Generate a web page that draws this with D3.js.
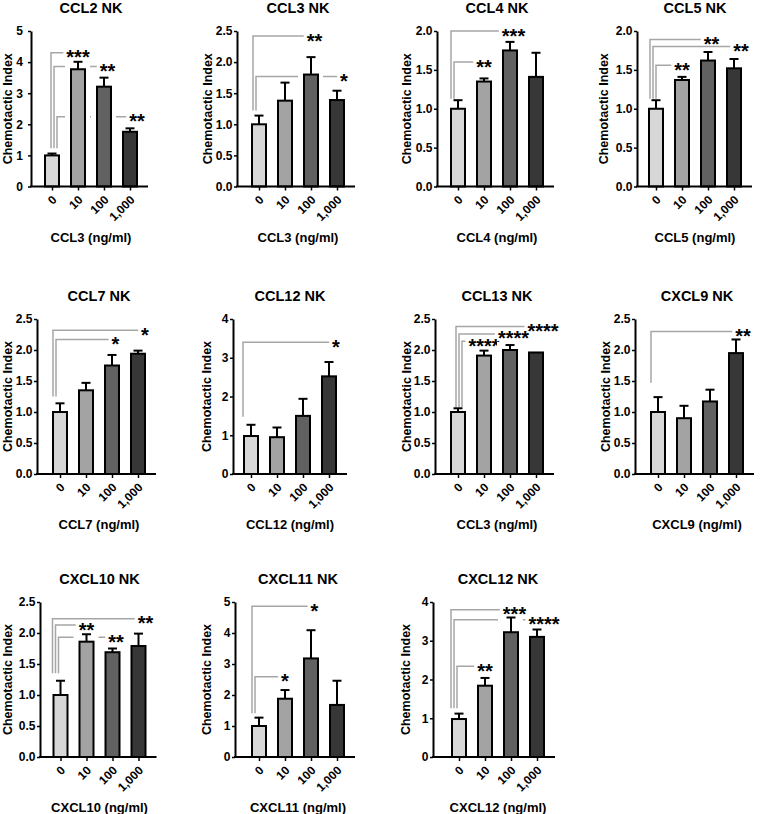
<!DOCTYPE html>
<html><head><meta charset="utf-8">
<script src="https://cdn.jsdelivr.net/npm/d3@7"></script>
<style>
body{margin:0;background:#fff}
svg text{font-family:"Liberation Sans",Arial,sans-serif;fill:#000}
</style>
</head><body>
<svg id="c" width="760" height="814"></svg>
<script>
// ---------------- data ----------------
const doses = ["0", "10", "100", "1,000"];
const titles = ["CCL2 NK","CCL3 NK","CCL4 NK","CCL5 NK","CCL7 NK","CCL12 NK","CCL13 NK","CXCL9 NK","CXCL10 NK","CXCL11 NK","CXCL12 NK"];
const xLabels = ["CCL3 (ng/ml)","CCL3 (ng/ml)","CCL4 (ng/ml)","CCL5 (ng/ml)","CCL7 (ng/ml)","CCL12 (ng/ml)","CCL3 (ng/ml)","CXCL9 (ng/ml)","CXCL10 (ng/ml)","CXCL11 (ng/ml)","CXCL12 (ng/ml)"];
const yLabel = "Chemotactic Index";
const yMax  = [5, 2.5, 2, 2, 2.5, 4, 2.5, 2.5, 2.5, 5, 4];
const yStep = [1, 0.5, 0.5, 0.5, 0.5, 1, 0.5, 0.5, 0.5, 1, 1];
const means = [
  [1.00, 3.77, 3.21, 1.76],
  [1.00, 1.38, 1.80, 1.39],
  [1.00, 1.35, 1.75, 1.41],
  [1.00, 1.37, 1.62, 1.52],
  [1.00, 1.35, 1.75, 1.94],
  [0.98, 0.95, 1.50, 2.52],
  [1.00, 1.91, 2.00, 1.96],
  [1.00, 0.90, 1.17, 1.95],
  [1.00, 1.86, 1.69, 1.79],
  [1.00, 1.88, 3.18, 1.68],
  [0.98, 1.84, 3.22, 3.10]
];
const errUpper = [
  [1.06, 4.01, 3.50, 1.87],
  [1.14, 1.67, 2.08, 1.54],
  [1.11, 1.39, 1.86, 1.72],
  [1.11, 1.41, 1.73, 1.64],
  [1.14, 1.47, 1.92, 1.99],
  [1.27, 1.20, 1.94, 2.89],
  [1.06, 1.99, 2.08, 1.96],
  [1.24, 1.10, 1.36, 2.17],
  [1.23, 1.98, 1.75, 1.99],
  [1.27, 2.16, 4.09, 2.46],
  [1.12, 2.04, 3.60, 3.29]
];
const sigTargets = [[1,2,3],[2,3],[2,1],[2,3,1],[3,2],[3],[3,2,1],[3],[3,1,2],[2,1],[2,3,1]];
const sigStars = [["***","**","**"],["**","*"],["***","**"],["**","**","**"],["*","*"],["*"],["****","****","****"],["**"],["**","**","**"],["*","*"],["***","****","**"]];
const sigLevels = [[4.30,3.86,2.24],[2.42,1.77],[2.00,1.60],[1.89,1.80,1.56],[2.32,2.17],[3.40],[2.38,2.26,2.14],[2.30],[2.23,2.13,1.93],[4.86,2.59],[3.80,3.54,2.34]];
const sigBase = [1.23,1.22,1.13,1.13,1.25,1.48,1.08,1.47,1.35,1.41,1.26];
const barFills = ["#d7d7d7", "#a3a3a3", "#616161", "#373737"];

// ---------------- layout ----------------
const rowY = [[31, 186.5], [319, 474], [602, 757]];
const panelRow = [0,0,0,0,1,1,1,1,2,2,2];
const axisX = [31, 237, 437, 637, 37, 233, 435, 635, 40, 235, 433];
const firstBarX = [52, 259, 458, 656, 60, 251, 458, 658, 60.5, 259, 459];
const yLabelX = [8, 208, 407, 604, 7.5, 207, 406.5, 606, 7.5, 207, 406];
const tickGap = [5, 1.5, 1.5, 1.5, 1.5, 1.5, 1.5, 1.5, 1.5, 1.5, 1.5];
const bracketInset = [6, 1, 0, 1, 0, -1, 5, 0, -1, 0, -1];
const barStep = 26, barW = 16, starSize = 20;

const svg = d3.select("#c");

titles.forEach((title, i) => {
  const [yTop, yBot] = rowY[panelRow[i]];
  const y = d3.scaleLinear().domain([0, yMax[i]]).range([yBot, yTop]);
  const x = d3.scalePoint().domain(doses).range([firstBarX[i], firstBarX[i] + barStep * 3]);
  const xEnd = firstBarX[i] + barStep * 3 + 18;
  const cx = (firstBarX[i] + firstBarX[i] + barStep * 3) / 2;
  const g = svg.append("g");
  const rows = doses.map((d, j) => ({d, j, m: means[i][j], e: errUpper[i][j]}));

  // significance brackets
  const starW = n => n * 0.389 * starSize;
  sigTargets[i].forEach((t, k) => {
    const lvl = sigLevels[i][k];
    const vx = x(doses[0]) - barW / 2 + 1 + bracketInset[i] + k * 3;
    const sx = x(doses[t]) + (t - 1) * 3.5;
    const lineEnd = sx - starW(sigStars[i][k].length) / 2 - 3;
    g.append("path")
      .attr("d", d3.line()([[vx, y(sigBase[i])], [vx, y(lvl)], [lineEnd, y(lvl)]]))
      .attr("fill", "none").attr("stroke", "#a6a6a6").attr("stroke-width", 1.5);
    g.append("text").attr("x", sx).attr("y", y(lvl) + 11.6)
      .attr("text-anchor", "middle").style("font-size", starSize + "px").style("font-weight", "bold")
      .text(sigStars[i][k]);
  });

  // white halos so brackets pass behind bars
  g.selectAll("rect.halo").data(rows.filter(r => r.j > 0)).join("rect")
    .attr("x", r => x(r.d) - barW / 2 - 5).attr("width", barW + 9)
    .attr("y", r => y(r.e) - 3).attr("height", r => y(0) - y(r.e) + 3)
    .attr("fill", "#fff");

  // error bars
  const eb = rows.filter(r => r.e > r.m);
  g.selectAll("line.err").data(eb).join("line")
    .attr("x1", r => x(r.d)).attr("x2", r => x(r.d))
    .attr("y1", r => y(r.m)).attr("y2", r => y(r.e))
    .attr("stroke", "#000").attr("stroke-width", 2);
  g.selectAll("line.cap").data(eb).join("line")
    .attr("x1", r => x(r.d) - 4.5).attr("x2", r => x(r.d) + 4.5)
    .attr("y1", r => y(r.e)).attr("y2", r => y(r.e))
    .attr("stroke", "#000").attr("stroke-width", 2);

  // bars
  g.selectAll("rect.bar").data(rows).join("rect")
    .attr("x", r => x(r.d) - barW / 2 + 1).attr("width", barW - 2)
    .attr("y", r => y(r.m)).attr("height", r => y(0) - y(r.m))
    .attr("fill", r => barFills[r.j]).attr("stroke", "#000").attr("stroke-width", 2);

  // y axis
  const fmt = yStep[i] < 1 ? d3.format(".1f") : d3.format("d");
  const ya = g.append("g").attr("transform", `translate(${axisX[i]},0)`)
    .call(d3.axisLeft(y).tickValues(d3.range(0, yMax[i] + 1e-9, yStep[i]))
      .tickSize(3).tickSizeOuter(0).tickPadding(tickGap[i]).tickFormat(fmt));
  ya.select(".domain").attr("stroke", "#000").attr("stroke-width", 2);
  ya.selectAll(".tick line").attr("stroke", "#000").attr("stroke-width", 1.5);
  ya.selectAll(".tick text").style("font-size", "12px").style("font-weight", "bold")
    .attr("fill", "#000").attr("font-family", null);

  // x axis
  const xa = g.append("g").attr("transform", `translate(0,${y(0)})`)
    .call(d3.axisBottom(x).tickSize(4).tickSizeOuter(0));
  xa.select(".domain").remove();
  xa.append("path").attr("d", d3.line()([[axisX[i] - 1, 0], [xEnd, 0]]))
    .attr("stroke", "#000").attr("stroke-width", 2);
  xa.selectAll(".tick line").attr("stroke", "#000").attr("stroke-width", 1.5);
  xa.selectAll(".tick text").attr("x", 0).attr("y", 0).attr("dy", "0.35em")
    .attr("text-anchor", "end").attr("transform", "translate(2,11) rotate(-45)")
    .style("font-size", "12px").style("font-weight", "bold").attr("fill", "#000").attr("font-family", null);

  // labels
  g.append("text").attr("x", cx).attr("y", yTop - 18.5).attr("text-anchor", "middle")
    .style("font-size", "14.5px").style("font-weight", "bold").text(title);
  g.append("text").attr("x", cx).attr("y", yBot + 55).attr("text-anchor", "middle")
    .style("font-size", "13px").style("font-weight", "bold").text(xLabels[i]);
  g.append("text").attr("transform", `translate(${yLabelX[i]},${(yTop + yBot) / 2}) rotate(-90)`)
    .attr("dy", "0.35em").attr("text-anchor", "middle")
    .style("font-size", "12.5px").style("font-weight", "bold").text(yLabel);
});
</script>
</body></html>
